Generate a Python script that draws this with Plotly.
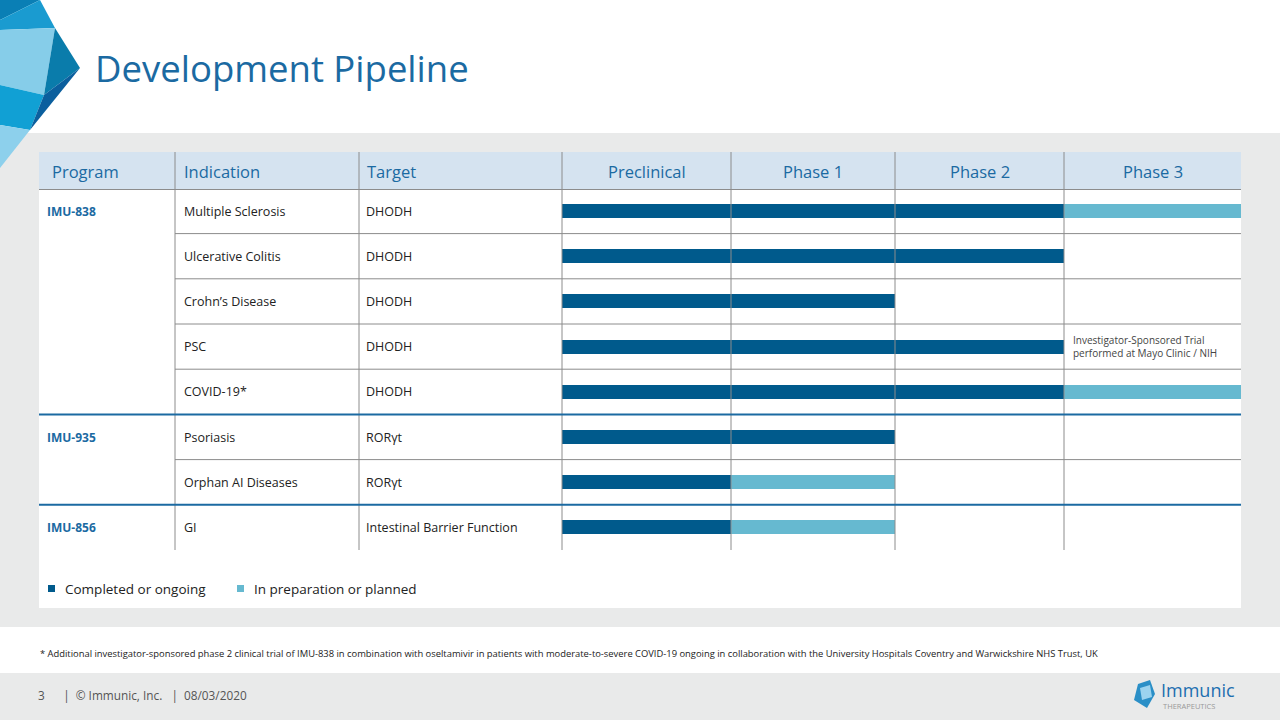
import plotly.graph_objects as go

programs = ["IMU-838", "", "", "", "", "IMU-935", "", "IMU-856"]
indications = ["Multiple Sclerosis", "Ulcerative Colitis", "Crohn\u2019s Disease", "PSC",
               "COVID-19*", "Psoriasis", "Orphan AI Diseases", "GI"]
targets = ["DHODH", "DHODH", "DHODH", "DHODH", "DHODH", "ROR\u03b3t", "ROR\u03b3t",
           "Intestinal Barrier Function"]
phases = ["Preclinical", "Phase 1", "Phase 2", "Phase 3"]
# number of phases completed/ongoing, and phases planned beyond that
done = [3, 3, 2, 3, 3, 2, 1, 1]
planned = [1, 0, 0, 0, 1, 0, 1, 1]

DARK = "#005a8c"
LIGHT = "#66b9d0"
TITLE = "#1b6aa2"
GRID = "#8c8c8c"

# layout geometry (pixels)
col_x = [562, 731, 895, 1064, 1241]
row0, rowh = 211, 45.2
rows_y = [row0 + i * rowh for i in range(len(indications))]

fig = go.Figure()
base_d = [col_x[0]] * len(done)
w_d = [col_x[d] - col_x[0] for d in done]
base_p = [col_x[d] for d in done]
w_p = [col_x[d + p] - col_x[d] for d, p in zip(done, planned)]
fig.add_trace(go.Bar(y=rows_y, x=w_d, base=base_d, orientation="h", marker_color=DARK,
                     width=14, marker_line_width=0, showlegend=False, hoverinfo="skip"))
fig.add_trace(go.Bar(y=rows_y, x=w_p, base=base_p, orientation="h", marker_color=LIGHT,
                     width=14, marker_line_width=0, showlegend=False, hoverinfo="skip"))

shapes = []
def rect(x0, y0, x1, y1, color):
    shapes.append(dict(type="rect", xref="x", yref="y", x0=x0, x1=x1, y0=y0, y1=y1,
                       fillcolor=color, line_width=0, layer="below"))
def line(x0, y0, x1, y1, color, w=1):
    shapes.append(dict(type="line", xref="x", yref="y", x0=x0, x1=x1, y0=y0, y1=y1,
                       line=dict(color=color, width=w), layer="above"))

rect(0, 133, 1280, 627, "#e9eaea")
rect(0, 673, 1280, 720, "#e9eaea")
rect(39, 152, 1241, 608, "white")
rect(39, 152, 1241, 189, "#d5e3f0")
# logo polygons
for pts, c in [
    ([(0, 0), (40, 0), (0, 20)], "#0a7fb5"),
    ([(0, 20), (40, 0), (55, 28), (0, 30)], "#1a9bd0"),
    ([(0, 30), (55, 28), (44, 95), (0, 85)], "#86cde9"),
    ([(55, 28), (80, 68), (44, 95)], "#0a7cab"),
    ([(0, 85), (44, 95), (30, 130), (0, 125)], "#11a0d4"),
    ([(44, 95), (80, 68), (30, 130)], "#0b5f9e"),
    ([(0, 125), (30, 130), (0, 168)], "#8dd0ec"),
]:
    path = "M " + " L ".join(f"{x},{y}" for x, y in pts) + " Z"
    shapes.append(dict(type="path", xref="x", yref="y", path=path, fillcolor=c,
                       line_width=0, layer="above"))

bottom = rows_y[-1] + rowh / 2
for cx in [175, 359]:
    line(cx, 152, cx, bottom, GRID)
for cx in col_x[:-1]:
    line(cx, 152, cx, bottom, GRID)
line(39, 189.5, 1241, 189.5, GRID)
for i in range(len(indications) - 1):
    yb = rows_y[i] + rowh / 2
    if programs[i + 1]:
        line(39, yb, 1241, yb, TITLE, 2)
    else:
        line(175, yb, 1241, yb, GRID)

ann = []
def text(x, y, s, size=13, color="#222", anchor="left", family="Open Sans", bold=False, weight=None):
    if bold:
        s = f"<b>{s}</b>"
    f = dict(size=size, color=color, family=family)
    if weight:
        f["weight"] = weight
    ann.append(dict(x=x, y=y, xref="x", yref="y", text=s, showarrow=False, xanchor=anchor,
                    align=anchor, yanchor="middle", font=f))

text(93, 68, "Development Pipeline", size=36.5, color=TITLE, family="Open Sans")
text(50, 171, "Program", 16.5, TITLE)
text(182, 171, "Indication", 16.5, TITLE)
text(365, 171, "Target", 16.5, TITLE)
for i, ph in enumerate(phases):
    text((col_x[i] + col_x[i + 1]) / 2, 171, ph, 16.5, TITLE, anchor="center")
for i, y in enumerate(rows_y):
    if programs[i]:
        text(45, y, programs[i], 12, TITLE, bold=True)
    text(182, y, indications[i], 12.5)
    text(364, y, targets[i], 12.5)
text(1071, rows_y[3], "Investigator-Sponsored Trial<br>performed at Mayo Clinic / NIH", 10, "#444")
rect(48, 585, 55, 592, DARK)
text(63, 589, "Completed or ongoing", 13.5)
rect(237, 585, 244, 592, LIGHT)
text(252, 589, "In preparation or planned", 13.5)
text(38, 653, "* Additional investigator-sponsored phase 2 clinical trial of IMU-838 in combination with oseltamivir in patients with moderate-to-severe COVID-19 ongoing in collaboration with the University Hospitals Coventry and Warwickshire NHS Trust, UK", 9.4, "#222")
text(36, 695, "3      |  \u00a9 Immunic, Inc.   |  08/03/2020", 11.8, "#555")
# bottom-right logo
shapes.append(dict(type="path", xref="x", yref="y",
                   path="M 1138,684 L 1150,680 L 1155,694 L 1147,708 L 1134,700 Z",
                   fillcolor="#2a8fc7", line_width=0))
shapes.append(dict(type="path", xref="x", yref="y",
                   path="M 1140,688 L 1150,685 L 1152,697 L 1142,700 Z",
                   fillcolor="#9bd3ef", line_width=0))
text(1159, 690, "Immunic", 18, "#1d6fb0")
text(1161, 706, "THERAPEUTICS", 7.5, "#999")

fig.update_layout(
    width=1280, height=720, margin=dict(l=0, r=0, t=0, b=0),
    paper_bgcolor="white", plot_bgcolor="rgba(0,0,0,0)",
    xaxis=dict(range=[0, 1280], visible=False, fixedrange=True),
    yaxis=dict(range=[720, 0], visible=False, fixedrange=True),
    shapes=shapes, annotations=ann, barmode="overlay", bargap=0,
)
fig.write_html("out.html", config={"displayModeBar": False},
               post_script="document.body.style.margin='0';document.body.style.overflow='hidden';")
